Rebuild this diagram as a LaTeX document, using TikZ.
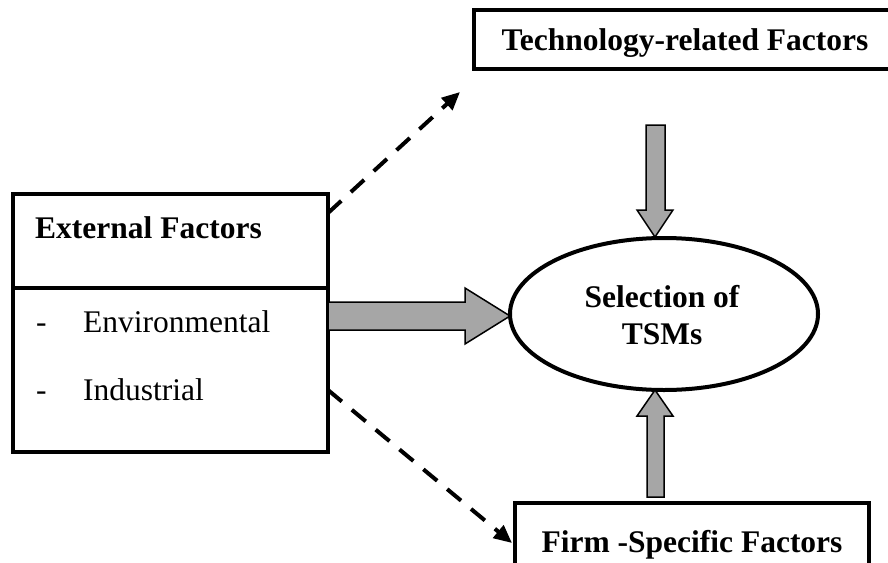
\documentclass[tikz,border=0pt]{standalone}
\usepackage{fontspec}
\setmainfont{Liberation Serif}
\usetikzlibrary{arrows.meta,shapes.geometric}
\begin{document}
\begin{tikzpicture}[x=1pt,y=-1pt,
  boxline/.style={draw=black,line width=4pt},
  lbl/.style={inner sep=0pt,font=\fontsize{31.5}{37}\selectfont},
  blbl/.style={lbl,font=\fontsize{31.5}{37}\selectfont\bfseries},
  blockarrow/.style={fill=black!35,draw=black,line width=1.5pt,line join=miter},
  dasharrow/.style={line width=4pt,dash pattern=on 18pt off 13pt,-{Triangle[length=18pt,width=16pt]}}]
\useasboundingbox (0,0) rectangle (888,562);
\clip (0,0) rectangle (888,562);
% boxes
\draw[boxline] (474,10) rectangle (894,69);
\node[blbl,anchor=base] (tech) at (685,50) {Technology-related Factors};
\draw[boxline] (12.5,194) rectangle (328,452);
\draw[boxline] (12.5,288) -- (328,288);
\node[blbl,anchor=base west] (ext) at (35,238) {External Factors};
\node[lbl,anchor=base west] (d1) at (36,332) {-};
\node[lbl,anchor=base west] (env) at (83,332) {Environmental};
\node[lbl,anchor=base west] (d2) at (36,400) {-};
\node[lbl,anchor=base west] (ind) at (83,400) {Industrial};
\draw[boxline] (515,503) rectangle (869,570);
\node[blbl,anchor=base] (firm) at (692,552) {Firm -Specific Factors};
% ellipse
\node[ellipse,boxline,minimum width=308pt,minimum height=152pt,inner sep=0pt] (sel) at (664,314) {};
\node[blbl,align=center,anchor=base] (sel1) at (662,307) {Selection of};
\node[blbl,anchor=base] (sel2) at (662,344) {TSMs};
% dashed arrows
\coordinate (u0) at (328,213);
\coordinate (u1) at (460,92);
\coordinate (l0) at (328,390);
\coordinate (l1) at (512,543);
\draw[dasharrow] (u0) -- (u1);
\draw[dasharrow] (l0) -- (l1);
% block arrows
\draw[blockarrow] (328,302) -- (465,302) -- (465,288) -- (510,316) -- (465,344) -- (465,330) -- (328,330) -- cycle;
\draw[blockarrow] (646,125) -- (665,125) -- (665,210) -- (673,210) -- (655,237) -- (637,210) -- (646,210) -- cycle;
\draw[blockarrow] (647,497) -- (664,497) -- (664,416) -- (673,416) -- (655,390) -- (637,416) -- (647,416) -- cycle;
\end{tikzpicture}
\end{document}
